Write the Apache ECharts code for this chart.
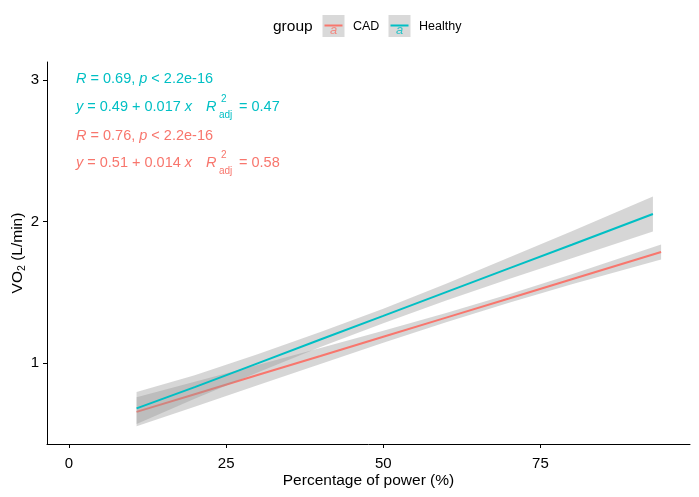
<!DOCTYPE html>
<html>
<head>
<meta charset="utf-8">
<script src="https://cdn.jsdelivr.net/npm/echarts@6/dist/echarts.min.js"></script>
<style>html,body{margin:0;padding:0;background:#fff;}#c{width:699px;height:497px;}</style>
</head>
<body>
<div id="c"></div>
<script>
// ---- data ----
var groups = ['CAD', 'Healthy'];
var xTicks = [0, 25, 50, 75];
var yTicks = [1, 2, 3];

var cadX    = [10.75, 20, 30, 40, 50, 60, 70, 80, 94.2];
var cadFit  = [0.655, 0.780, 0.915, 1.050, 1.186, 1.321, 1.456, 1.592, 1.784];
var cadLow  = [0.553, 0.692, 0.843, 0.993, 1.143, 1.288, 1.426, 1.556, 1.731];
var cadUp   = [0.758, 0.868, 0.987, 1.107, 1.229, 1.354, 1.486, 1.628, 1.837];

var hlX     = [10.75, 20, 30, 40, 50, 60, 70, 80, 92.9];
var hlFit   = [0.680, 0.830, 0.998, 1.166, 1.333, 1.501, 1.669, 1.836, 2.053];
var hlLow   = [0.570, 0.747, 0.933, 1.113, 1.282, 1.442, 1.593, 1.740, 1.929];
var hlUp    = [0.795, 0.913, 1.063, 1.219, 1.384, 1.561, 1.745, 1.932, 2.177];

var hlStat1 = ['0.69', '2.2e-16'];      // R, p
var hlStat2 = ['0.49', '0.017', '0.47']; // intercept, slope, R2adj
var cadStat1 = ['0.76', '2.2e-16'];
var cadStat2 = ['0.51', '0.014', '0.58'];

// ---- styles ----
var colCAD = '#F8766D', colHL = '#00BFC4';
var bandFill = 'rgba(153,153,153,0.4)';
var FONT = 'Liberation Sans, Arial, sans-serif';

function pairs(xs, ys) { return xs.map(function (x, i) { return [x, ys[i]]; }); }

function bandSeries(xs, lo, up, z) {
  return {
    type: 'custom', z: z, silent: true,
    data: [[xs[0], lo[0]]],
    renderItem: function (params, api) {
      var pts = [];
      for (var i = 0; i < xs.length; i++) pts.push(api.coord([xs[i], up[i]]));
      for (var j = xs.length - 1; j >= 0; j--) pts.push(api.coord([xs[j], lo[j]]));
      return { type: 'polygon', shape: { points: pts }, style: { fill: bandFill } };
    }
  };
}
function lineSeries(name, xs, ys, col, z) {
  return {
    name: name, type: 'line', z: z, data: pairs(xs, ys), showSymbol: false, smooth: false,
    lineStyle: { color: col, width: 2 }, itemStyle: { color: col }, silent: true, animation: false
  };
}

var chart = echarts.init(document.getElementById('c'), null, { renderer: 'canvas' });

function statLine1(y, col, s) {
  return {
    type: 'text', left: 76, top: y - 9,
    style: {
      text: '{i|R} = ' + s[0] + ', {i|p} < ' + s[1],
      rich: { i: { fontStyle: 'italic', fontSize: 14.5, fontFamily: FONT, fill: col } },
      fontSize: 14.5, fontFamily: FONT, fill: col
    }
  };
}
function statLine2(y, col, s) {
  return [
    { type: 'text', left: 76, top: y - 9,
      style: { text: '{i|y} = ' + s[0] + ' + ' + s[1] + ' {i|x}',
        rich: { i: { fontStyle: 'italic', fontSize: 14.5, fontFamily: FONT, fill: col } },
        fontSize: 14.5, fontFamily: FONT, fill: col } },
    { type: 'text', left: 206, top: y - 9,
      style: { text: 'R', fontStyle: 'italic', fontSize: 14.5, fontFamily: FONT, fill: col } },
    { type: 'text', left: 221, top: y - 14,
      style: { text: '2', fontSize: 10, fontFamily: FONT, fill: col } },
    { type: 'text', left: 219, top: y + 2,
      style: { text: 'adj', fontSize: 10, fontFamily: FONT, fill: col } },
    { type: 'text', left: 239, top: y - 9,
      style: { text: '= ' + s[2], fontSize: 14.5, fontFamily: FONT, fill: col } }
  ];
}

function legendKey(x, col) {
  return [
    { type: 'rect', shape: { x: x, y: 15, width: 22, height: 22 }, style: { fill: '#d9d9d9' } },
    { type: 'text', style: { text: 'a', x: x + 11, y: 30, align: 'center', verticalAlign: 'middle',
        fontSize: 13, fontStyle: 'italic', fontFamily: FONT, fill: col, opacity: 0.8 } },
    { type: 'line', shape: { x1: x + 2, y1: 25.5, x2: x + 20, y2: 25.5 }, style: { stroke: col, lineWidth: 2 } }
  ];
}

var graphics = [];
graphics.push({ type: 'text', style: { text: 'group', x: 273, y: 27, verticalAlign: 'middle',
  fontSize: 15.5, fontFamily: FONT, fill: '#000' } });
graphics = graphics.concat(legendKey(322.5, colCAD));
graphics.push({ type: 'text', style: { text: groups[0], x: 353, y: 27, verticalAlign: 'middle',
  fontSize: 12.5, fontFamily: FONT, fill: '#000' } });
graphics = graphics.concat(legendKey(388.5, colHL));
graphics.push({ type: 'text', style: { text: groups[1], x: 419, y: 27, verticalAlign: 'middle',
  fontSize: 12.5, fontFamily: FONT, fill: '#000' } });

graphics.push(statLine1(80, colHL, hlStat1));
graphics = graphics.concat(statLine2(108, colHL, hlStat2));
graphics.push(statLine1(137, colCAD, cadStat1));
graphics = graphics.concat(statLine2(164, colCAD, cadStat2));

graphics.push({ type: 'text', style: { text: 'Percentage of power (%)', x: 368.5, y: 481,
  align: 'center', verticalAlign: 'middle', fontSize: 15.5, fontFamily: FONT, fill: '#000' } });
graphics.push({ type: 'text', x: 18, y: 253, rotation: Math.PI / 2,
  style: { text: '{n|VO}{s|2}{n| (L/min)}', x: 0, y: 0, align: 'center', verticalAlign: 'middle',
    rich: { n: { fontSize: 15.5, fontFamily: FONT, fill: '#000', lineHeight: 20, verticalAlign: 'middle' },
            s: { fontSize: 10.5, fontFamily: FONT, fill: '#000', lineHeight: 20, verticalAlign: 'bottom' } } } });

chart.setOption({
  animation: false,
  backgroundColor: '#fff',
  grid: { left: 47, right: 9, top: 62, bottom: 53, containLabel: false },
  xAxis: {
    type: 'value', min: -3.5, max: 98.8,
    splitLine: { show: false },
    axisLine: { show: true, onZero: false, lineStyle: { color: '#000', width: 1 } },
    axisTick: { show: true, length: 4, customValues: xTicks, lineStyle: { color: '#000' } },
    axisLabel: { customValues: xTicks, margin: 12, fontSize: 15, fontFamily: FONT, color: '#000' }
  },
  yAxis: {
    type: 'value', min: 0.428, max: 3.127,
    splitLine: { show: false },
    axisLine: { show: true, onZero: false, lineStyle: { color: '#000', width: 1 } },
    axisTick: { show: true, length: 4, customValues: yTicks, lineStyle: { color: '#000' } },
    axisLabel: { customValues: yTicks, margin: 8, fontSize: 15, fontFamily: FONT, color: '#000' }
  },
  series: [
    bandSeries(cadX, cadLow, cadUp, 1),
    lineSeries(groups[0], cadX, cadFit, colCAD, 2),
    bandSeries(hlX, hlLow, hlUp, 3),
    lineSeries(groups[1], hlX, hlFit, colHL, 4)
  ],
  graphic: graphics
});
</script>
</body>
</html>
